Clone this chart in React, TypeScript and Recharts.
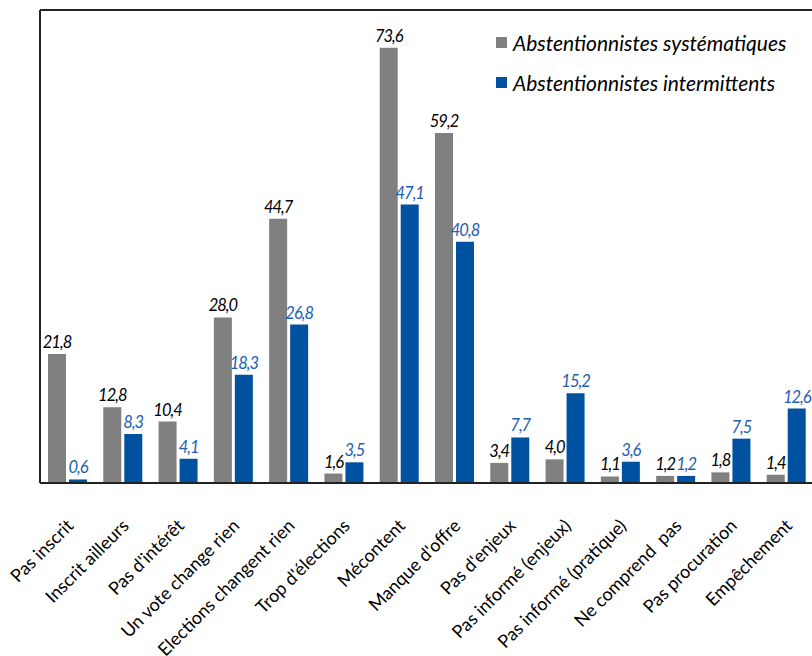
import { Bar, BarChart, LabelList, ReferenceLine, XAxis, YAxis } from 'recharts';

const categories = [
  'Pas inscrit',
  'Inscrit ailleurs',
  "Pas d'intérêt",
  'Un vote change rien',
  'Elections changent rien',
  "Trop d'élections",
  'Mécontent',
  "Manque d'offre",
  "Pas d'enjeux",
  'Pas informé (enjeux)',
  'Pas informé (pratique)',
  'Ne comprend  pas',
  'Pas procuration',
  'Empêchement',
];
const systematiques = [21.8, 12.8, 10.4, 28.0, 44.7, 1.6, 73.6, 59.2, 3.4, 4.0, 1.1, 1.2, 1.8, 1.4];
const intermittents = [0.6, 8.3, 4.1, 18.3, 26.8, 3.5, 47.1, 40.8, 7.7, 15.2, 3.6, 1.2, 7.5, 12.6];
const seriesNames = ['Abstentionnistes systématiques', 'Abstentionnistes intermittents'];

const GRAY = '#808080';
const BLUE = '#0051a0';
const BLUE_TEXT = '#1d60b2';
const FONT = 'Lato, "Open Sans", sans-serif';

const data = categories.map((name, i) => ({
  name,
  sys: systematiques[i],
  int: intermittents[i],
}));

const fmt = (v: any) => Number(v).toFixed(1).replace('.', ',');

function AngledTick({ x, y, payload }: any) {
  return (
    <text
      transform={`translate(${x + 7},${y + 44}) rotate(-45)`}
      textAnchor="end"
      fontFamily={FONT}
      fontSize={18}
      fill="#000"
      style={{ whiteSpace: 'pre' }}
    >
      {payload.value}
    </text>
  );
}

// legend sits over the plot, outside the chart layout (no space reserved)
function LegendBox() {
  const items = [
    { label: seriesNames[0], color: GRAY },
    { label: seriesNames[1], color: BLUE },
  ];
  return (
    <div
      style={{
        position: 'absolute',
        left: 496,
        top: 22,
        fontFamily: FONT,
        fontStyle: 'italic',
        fontSize: 21,
        color: '#000',
        lineHeight: 1,
      }}
    >
      {items.map((it) => (
        <div key={it.label} style={{ display: 'flex', alignItems: 'center', height: 40 }}>
          <span style={{ display: 'inline-block', width: 11, height: 11, background: it.color, marginRight: 6 }} />
          <span>{it.label}</span>
        </div>
      ))}
    </div>
  );
}

const labelStyle = { fontFamily: FONT, fontStyle: 'italic', fontSize: 16.5, letterSpacing: -1 };

export default function App() {
  return (
    <div style={{ position: 'absolute', left: 0, top: 0, width: 812, height: 656, overflow: 'hidden', background: '#fff' }}>
      <BarChart
        width={820}
        height={656}
        data={data}
        margin={{ top: 10, right: 6, left: 0, bottom: 0 }}
        barCategoryGap={8}
        barGap={3}
      >
        <XAxis
          dataKey="name"
          interval={0}
          height={173}
          tickLine={false}
          tickSize={0}
          tickMargin={0}
          axisLine={{ stroke: '#222', strokeWidth: 2 }}
          tick={<AngledTick />}
        />
        <YAxis
          width={40}
          domain={[0, 80]}
          tick={false}
          tickLine={false}
          axisLine={{ stroke: '#222', strokeWidth: 2 }}
        />
        <ReferenceLine y={80} stroke="#222" strokeWidth={2} />
        <Bar dataKey="sys" name={seriesNames[0]} fill={GRAY} isAnimationActive={false}>
          <LabelList dataKey="sys" position="top" offset={6} formatter={fmt} style={labelStyle} fill="#000" />
        </Bar>
        <Bar dataKey="int" name={seriesNames[1]} fill={BLUE} isAnimationActive={false}>
          <LabelList dataKey="int" position="top" offset={6} formatter={fmt} style={labelStyle} fill={BLUE_TEXT} />
        </Bar>
      </BarChart>
      <LegendBox />
    </div>
  );
}
